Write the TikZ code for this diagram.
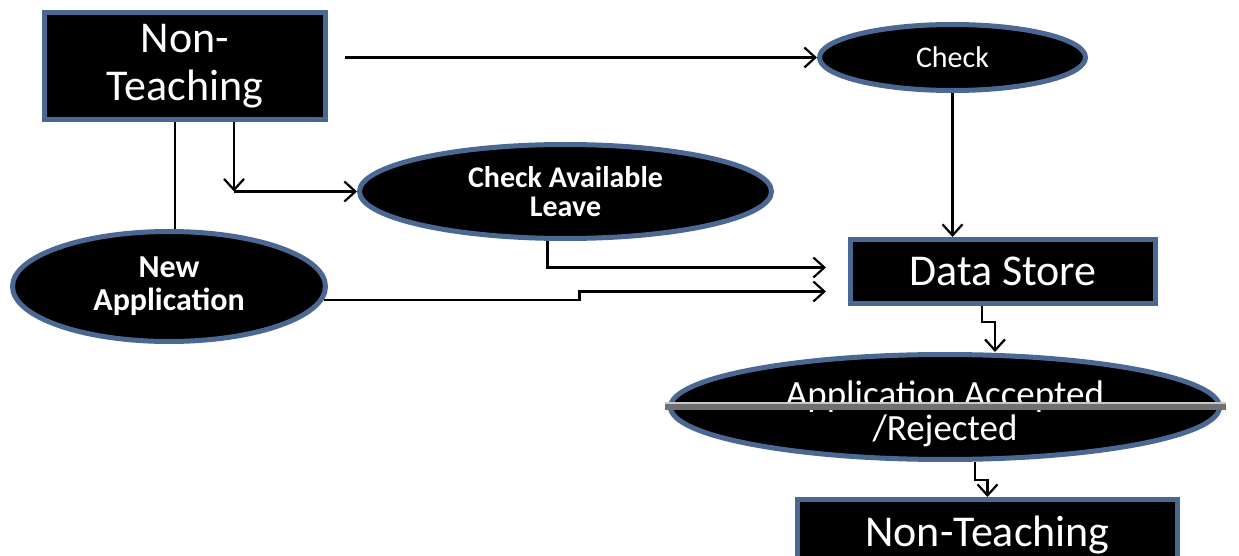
\documentclass[tikz,border=0pt]{standalone}
\usepackage{fontspec}
\setmainfont{Carlito}
\usetikzlibrary{shapes,arrows.meta,positioning}
\definecolor{rim}{RGB}{74,104,146}
\definecolor{bargrey}{RGB}{112,112,112}
\definecolor{barlight}{RGB}{200,200,200}

\begin{document}
\begin{tikzpicture}[x=0.5pt,y=-0.5pt,
    box/.style={draw=rim,fill=black,line width=2.5pt,text=white,align=center,inner sep=0pt},
    oval/.style={ellipse,draw=rim,fill=black,line width=2.5pt,text=white,align=center,inner sep=0pt},
    flow/.style={-{Straight Barb[length=5.5pt,width=10pt]},line width=1.1pt},
    link/.style={line width=1.1pt}]

    \useasboundingbox (0,0) rectangle (1239,556);
    \clip (0,0) rectangle (1239,556);

    \node[box,minimum width=140.5pt,minimum height=53.5pt,font=\fontsize{22}{24}\selectfont] (nt1) at (185,66) {Non-\\Teaching};
    \node[oval,minimum width=133pt,minimum height=33pt,font=\fontsize{15}{16}\selectfont] (chk) at (952.5,57.5) {Check};
    \node[oval,minimum width=206pt,minimum height=47pt,font=\fontsize{15}{14.5}\selectfont\bfseries] (cal) at (565.5,191.5) {Check Available\\Leave};
    \node[oval,minimum width=156.5pt,minimum height=55pt,font=\fontsize{16}{16.5}\selectfont\bfseries] (na) at (169,286.5) {New\\Application};
    \node[box,minimum width=152.5pt,minimum height=32pt,font=\fontsize{22}{23}\selectfont] (ds) at (1003,271.5) {Data Store};
    \node[oval,minimum width=274.5pt,minimum height=52.5pt] (aar) at (945,407) {};
    \node[text=white,align=center,inner sep=0pt,font=\fontsize{18.5}{17}\selectfont] (aart) at ([yshift=-3.5pt]aar.center) {Application Accepted\\/Rejected};
    \node[box,minimum width=190pt,minimum height=35.5pt,font=\fontsize{22}{23}\selectfont] (nt2) at (987.5,535) {Non-Teaching};

    % grey bar across the decision
    \fill[bargrey] ([xshift=-1.5pt,yshift=2.5pt]aar.west) rectangle ([xshift=2pt,yshift=-1.5pt]aar.east);
    \draw[barlight,line width=1pt] ([xshift=-1.5pt,yshift=2pt]aar.west) -- ([xshift=2pt,yshift=2pt]aar.east);

    \draw[flow,shorten <=8.5pt] (nt1.east |- chk.west) -- (chk.west);
    \draw[flow] (chk.south) -- (chk.south |- ds.north);

    \coordinate (k1) at ([xshift=24.5pt]nt1.south |- cal.west);
    \draw[flow] ([xshift=24.5pt]nt1.south) -- (k1);
    \draw[flow] (k1) -- (cal.west);
    \draw[link] ([xshift=-5pt]nt1.south) -- ([xshift=-5pt]nt1.south |- na.north);

    \draw[flow,shorten >=11pt] ([xshift=-9pt]cal.south) |- ([yshift=2pt]ds.west);
    \draw[flow,shorten >=11pt] (na.-5) -- ++(128pt,0) |- ([yshift=-10pt]ds.west);

    \draw[flow] ([xshift=-10.5pt]ds.south) -- ++(0,-8pt) -| ([xshift=25pt]aar.north);
    \draw[flow] ([xshift=15pt]aar.south) -- ++(0,-9pt) -| (nt2.north);

\end{tikzpicture}
\end{document}
